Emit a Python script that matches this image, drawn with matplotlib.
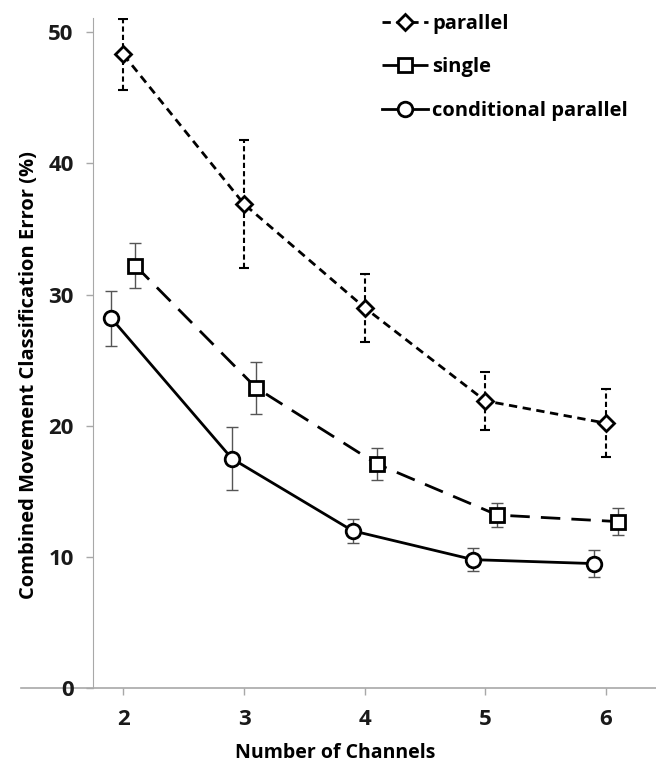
import numpy as np
import matplotlib
matplotlib.use("Agg")
import matplotlib.pyplot as plt

# data
channels = [2, 3, 4, 5, 6]
parallel = [48.3, 36.9, 29.0, 21.9, 20.2]
parallel_err = [2.7, 4.9, 2.6, 2.2, 2.6]
single = [32.2, 22.9, 17.1, 13.2, 12.7]
single_err = [1.7, 2.0, 1.2, 0.9, 1.0]
conditional = [28.2, 17.5, 12.0, 9.8, 9.5]
conditional_err = [2.1, 2.4, 0.9, 0.9, 1.0]
yticks = [0, 10, 20, 30, 40, 50]

plt.rcParams['font.family'] = ['Open Sans', 'DejaVu Sans']
plt.rcParams['font.weight'] = 'bold'

fig = plt.figure(figsize=(6.56, 7.69), dpi=100)
ax = fig.add_axes([0.142, 0.105, 0.849, 0.872])

x = np.array(channels, dtype=float)
grey = '#a8a8a8'

# parallel: short dashes, dashed error bars
eb = ax.errorbar(x, parallel, yerr=parallel_err, fmt='none', ecolor='black',
                 elinewidth=1.5, capsize=3.5, capthick=1.5, zorder=2)
eb[2][0].set_linestyle((0, (2.5, 1.5)))
ax.plot(x, parallel, color='black', lw=2, ls=(0, (3, 2)), marker='D',
        ms=8, mfc='white', mec='black', mew=2, zorder=3, label='parallel')

# single: long dashes
ax.errorbar(x + 0.1, single, yerr=single_err, fmt='none', ecolor='#555555',
            elinewidth=1, capsize=4, capthick=1, zorder=2)
ax.plot(x + 0.1, single, color='black', lw=2, ls=(0, (7, 4)), marker='s',
        ms=9.5, mfc='white', mec='black', mew=2, zorder=3, label='single')

# conditional parallel: solid
ax.errorbar(x - 0.1, conditional, yerr=conditional_err, fmt='none', ecolor='#555555',
            elinewidth=1, capsize=4, capthick=1, zorder=2)
ax.plot(x - 0.1, conditional, color='black', lw=2, ls='-', marker='o',
        ms=10.5, mfc='white', mec='black', mew=2, zorder=3, label='conditional parallel')

ax.set_xlim(1.75, 6.365)
ax.set_ylim(0, 51.1)
ax.set_xticks(channels)
ax.set_yticks(yticks)
ax.tick_params(axis='both', colors=grey, labelcolor='#1a1a1a', labelsize=16,
               length=5, width=1)
ax.tick_params(axis='x', pad=10)
ax.tick_params(axis='y', pad=9)

for s in ['top', 'right']:
    ax.spines[s].set_visible(False)
ax.spines['left'].set_color(grey)
ax.spines['bottom'].set_visible(False)
ax.axhline(0, xmin=-0.13, xmax=1.01, color=grey, lw=1.2, clip_on=False, zorder=1)

ax.set_xlabel('Number of Channels', fontsize=14, fontweight='bold')
ax.xaxis.set_label_coords(0.434, -0.082)
ax.set_ylabel('Combined Movement Classification Error (%)', fontsize=14.5,
              fontweight='bold')
ax.yaxis.set_label_coords(-0.097, 0.467)

ax.legend(loc='upper left', bbox_to_anchor=(0.554, 1.005), bbox_transform=fig.transFigure,
          frameon=False, fontsize=14.5, handlelength=2.3, handletextpad=0.2,
          labelspacing=1.15, borderaxespad=0.5)

fig.savefig('out.png', dpi=100)
